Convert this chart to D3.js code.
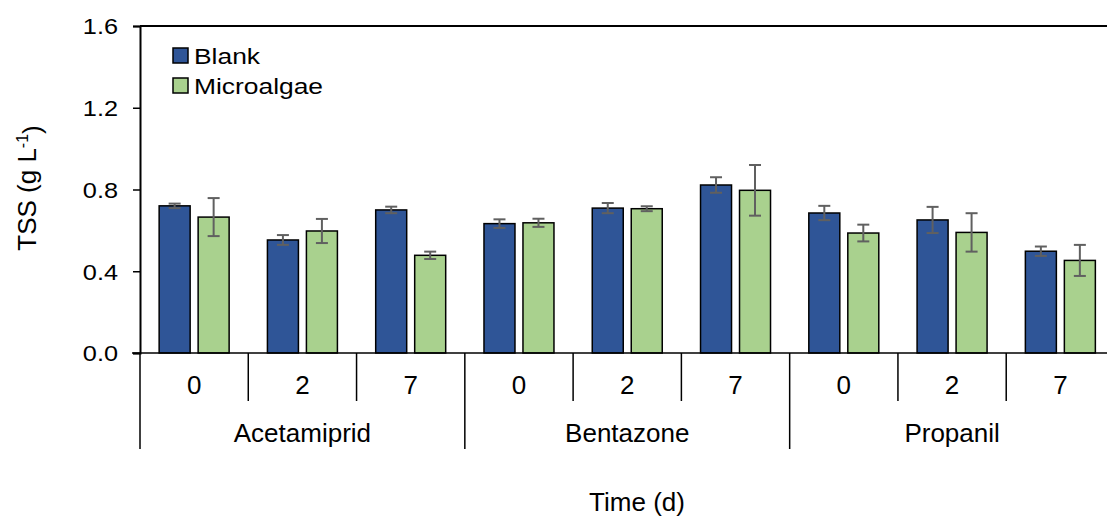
<!DOCTYPE html>
<html>
<head>
<meta charset="utf-8">
<script src="https://cdn.jsdelivr.net/npm/d3@7"></script>
<style>
  body { margin: 0; background: #fff; }
  text { font-family: "Liberation Sans", Arial, sans-serif; fill: #000; }
</style>
</head>
<body>
<svg id="chart"></svg>
<script>
// data
const groups = ["Acetamiprid", "Bentazone", "Propanil"];
const days = ["0", "2", "7"];
const series = ["Blank", "Microalgae"];
const blankVals = [0.72, 0.553, 0.70, 0.633, 0.709, 0.822, 0.685, 0.651, 0.498];
const blankErr = [0.011, 0.024, 0.016, 0.021, 0.025, 0.038, 0.035, 0.064, 0.023];
const microVals = [0.665, 0.597, 0.478, 0.637, 0.706, 0.796, 0.587, 0.590, 0.453];
const microErr = [0.093, 0.059, 0.018, 0.02, 0.012, 0.124, 0.041, 0.094, 0.076];
const yTicks = [0, 0.4, 0.8, 1.2, 1.6];

const width = 1107;
const height = 520;
const padL = 140, padR = 1114.5, padT = 26, padB = 353;
const colors = { Blank: "#2F5597", Microalgae: "#A9D18E" };
const stretch = 1.15; // tick text looks a bit wide in the original
const legStretch = 1.2;

const svg = d3.select("#chart").attr("width", width).attr("height", height);

// one slot per group/day pair
const cats = [];
groups.forEach((g) => days.forEach((d) => cats.push(g + "|" + d)));

const x = d3.scaleBand().domain(cats).range([padL, padR]);
const xSub = d3
  .scaleBand()
  .domain(series)
  .range([0, x.bandwidth()])
  .paddingInner(0.205)
  .paddingOuter(0.491);
const y = d3.scaleLinear().domain([0, 1.6]).range([padB, padT]);

const rows = [];
cats.forEach((c, i) => {
  rows.push({ cat: c, s: "Blank", v: blankVals[i], e: blankErr[i] });
  rows.push({ cat: c, s: "Microalgae", v: microVals[i], e: microErr[i] });
});

// top border line
svg.append("line")
  .attr("x1", padL).attr("x2", width)
  .attr("y1", padT).attr("y2", padT)
  .attr("stroke", "#000").attr("stroke-width", 2);

// y axis
const yAxis = d3.axisLeft(y).tickValues(yTicks).tickFormat(d3.format(".1f")).tickSize(7).tickPadding(14);
const gy = svg.append("g").attr("transform", "translate(" + padL + ",0)").call(yAxis);
gy.select(".domain").attr("stroke", "#000").attr("stroke-width", 2);
gy.selectAll(".tick line").attr("stroke", "#000").attr("stroke-width", 1.5);
gy.selectAll(".tick text")
  .attr("x", 0)
  .attr("transform", "translate(-22,0) scale(" + stretch + ",1)")
  .attr("font-size", "22px")
  .attr("dy", "0.36em")
  .style("font-family", "'Liberation Sans', Arial, sans-serif")
  .attr("fill", "#000");

// bars
svg.selectAll("rect.bar")
  .data(rows)
  .enter()
  .append("rect")
  .attr("class", "bar")
  .attr("x", (d) => x(d.cat) + xSub(d.s))
  .attr("width", xSub.bandwidth())
  .attr("y", (d) => y(d.v))
  .attr("height", (d) => y(0) - y(d.v))
  .attr("fill", (d) => colors[d.s])
  .attr("stroke", "#000")
  .attr("stroke-width", 1.5);

// error bars
const eb = svg.selectAll("g.err").data(rows).enter().append("g").attr("class", "err")
  .attr("stroke", "#606060").attr("stroke-width", 2);
const cx = (d) => x(d.cat) + xSub(d.s) + xSub.bandwidth() / 2;
eb.append("line").attr("x1", cx).attr("x2", cx)
  .attr("y1", (d) => y(d.v + d.e)).attr("y2", (d) => y(d.v - d.e));
eb.append("line").attr("x1", (d) => cx(d) - 6).attr("x2", (d) => cx(d) + 6)
  .attr("y1", (d) => y(d.v + d.e)).attr("y2", (d) => y(d.v + d.e));
eb.append("line").attr("x1", (d) => cx(d) - 6).attr("x2", (d) => cx(d) + 6)
  .attr("y1", (d) => y(d.v - d.e)).attr("y2", (d) => y(d.v - d.e));

// x axis line
svg.append("line")
  .attr("x1", padL - 8).attr("x2", width)
  .attr("y1", padB).attr("y2", padB)
  .attr("stroke", "#000").attr("stroke-width", 1.5);

// category dividers: short between days, long between groups
cats.forEach((c, i) => {
  const isGroup = i % 3 === 0;
  svg.append("line")
    .attr("x1", x(c)).attr("x2", x(c))
    .attr("y1", padB).attr("y2", isGroup ? 449 : 401)
    .attr("stroke", "#000").attr("stroke-width", 1.5);
});
svg.append("line")
  .attr("x1", padR).attr("x2", padR)
  .attr("y1", padB).attr("y2", 449)
  .attr("stroke", "#000").attr("stroke-width", 1.5);

// day labels
svg.selectAll("text.day")
  .data(cats)
  .enter()
  .append("text")
  .attr("class", "day")
  .attr("x", (c) => x(c) + x.bandwidth() / 2)
  .attr("y", 394)
  .attr("text-anchor", "middle")
  .attr("font-size", "26px")
  .text((c) => c.split("|")[1]);

// group labels
svg.selectAll("text.grp")
  .data(groups)
  .enter()
  .append("text")
  .attr("class", "grp")
  .attr("x", (g) => x(g + "|2") + x.bandwidth() / 2)
  .attr("y", 442)
  .attr("text-anchor", "middle")
  .attr("font-size", "26px")
  .text((g) => g);

// axis titles
svg.append("text")
  .attr("x", 637).attr("y", 511)
  .attr("text-anchor", "middle")
  .attr("font-size", "26px")
  .text("Time (d)");

const yt = svg.append("text")
  .attr("transform", "translate(36,188) rotate(-90)")
  .attr("text-anchor", "middle")
  .attr("font-size", "26px");
yt.append("tspan").text("TSS (g L");
yt.append("tspan").attr("dy", "-0.5em").attr("font-size", "16px").text("-1");
yt.append("tspan").attr("dy", "0.5em").text(")");

// legend
const lg = svg.selectAll("g.leg").data(series).enter().append("g").attr("class", "leg")
  .attr("transform", (d, i) => "translate(173," + (48 + i * 30) + ")");
lg.append("rect").attr("width", 15).attr("height", 15)
  .attr("fill", (d) => colors[d]).attr("stroke", "#000").attr("stroke-width", 1.5);
lg.append("text")
  .attr("transform", "translate(21,15.5) scale(" + legStretch + ",1)")
  .attr("font-size", "22px")
  .text((d) => d);
</script>
</body>
</html>
